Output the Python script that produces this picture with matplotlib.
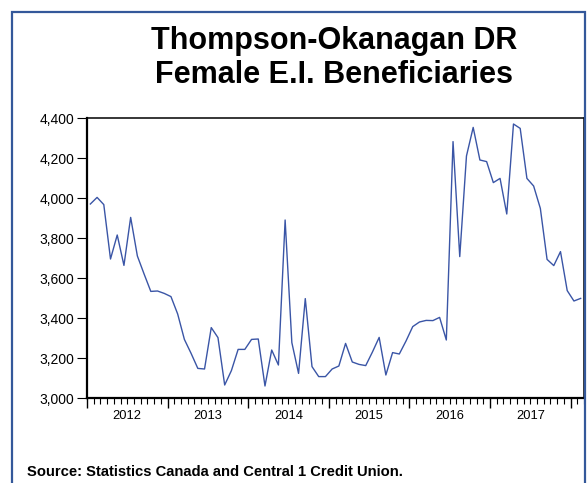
import numpy as np
import pandas as pd
import matplotlib
matplotlib.use("Agg")
import matplotlib.pyplot as plt
from matplotlib.patches import Rectangle
from matplotlib.ticker import FuncFormatter, FixedLocator, NullFormatter

# =====================================
# Data (monthly, Jan 2012 - Feb 2018)
# =====================================

start_month = "2012-01"

beneficiaries = [
    3970, 4003, 3967, 3695, 3815, 3663, 3903, 3710, 3620, 3533, 3535, 3523,
    3507, 3420, 3293, 3223, 3148, 3145, 3352, 3302, 3065, 3137, 3243, 3243,
    3293, 3295, 3060, 3240, 3165, 3890, 3277, 3123, 3497, 3157, 3107, 3107,
    3145, 3160, 3273, 3180, 3168, 3162, 3230, 3303, 3115, 3227, 3220, 3285,
    3357, 3380, 3388, 3387, 3403, 3290, 4282, 3707, 4210, 4353, 4190, 4182,
    4077, 4098, 3920, 4370, 4348, 4098, 4060, 3948, 3693, 3662, 3732, 3537,
    3485, 3498,
]

year_labels = ["2012", "2013", "2014", "2015", "2016", "2017"]
y_ticks = [3000, 3200, 3400, 3600, 3800, 4000, 4200, 4400]

title_text = "Thompson-Okanagan DR\nFemale E.I. Beneficiaries"
source_text = "Source: Statistics Canada and Central 1 Credit Union."

dates = pd.period_range(start_month, periods=len(beneficiaries), freq="M")
# x in months since Jan 2012, points at the middle of each month
x = np.arange(len(dates)) + 0.5

plt.rcParams["font.family"] = ["Liberation Sans", "DejaVu Sans"]

# =====================================
# Figure
# =====================================

fig = plt.figure(figsize=(5.87, 4.83), dpi=100)

# outer frame (cropped on the right and bottom)
fig.patches.append(Rectangle(
    (12 / 587, -0.05), 573 / 587, 1.05 - 12 / 483,
    transform=fig.transFigure, fill=False,
    edgecolor="#34589a", linewidth=1.6
))

ax = fig.add_axes([87 / 587, 1 - 398 / 483, (584 - 87) / 587, (398 - 118) / 483])

ax.plot(x, beneficiaries, color="#3a55a6", linewidth=1.0)

ax.set_xlim(0, len(beneficiaries))
ax.set_ylim(3000, 4400)

ax.set_yticks(y_ticks)
ax.yaxis.set_major_formatter(FuncFormatter(lambda v, p: f"{int(v):,}"))
ax.tick_params(axis="y", direction="out", length=7, width=0.8,
               labelsize=10, pad=2)

# year boundaries as major ticks, months as minor ticks
ax.xaxis.set_major_locator(FixedLocator(np.arange(0, len(beneficiaries) + 1, 12)))
ax.xaxis.set_minor_locator(FixedLocator(np.arange(0, len(beneficiaries) + 1, 1)))
ax.xaxis.set_major_formatter(NullFormatter())
ax.tick_params(axis="x", which="major", direction="out", length=7, width=1.0)
ax.tick_params(axis="x", which="minor", direction="out", length=4, width=0.8)

for i, lab in enumerate(year_labels):
    ax.text(12 * i + 6, -0.066, lab, transform=ax.get_xaxis_transform(),
            ha="center", va="center", fontsize=9.3)

for side in ["left", "bottom"]:
    ax.spines[side].set_linewidth(1.6)
for side in ["top", "right"]:
    ax.spines[side].set_linewidth(1.1)

# =====================================
# Titles
# =====================================

fig.text(334 / 587, 1 - 58 / 483, title_text, ha="center", va="center",
         fontsize=22, fontweight="bold", linespacing=1.14)

fig.text(27 / 587, 1 - 472 / 483, source_text, ha="left", va="center",
         fontsize=10.6, fontweight="bold")

fig.savefig("out.png", dpi=100)
